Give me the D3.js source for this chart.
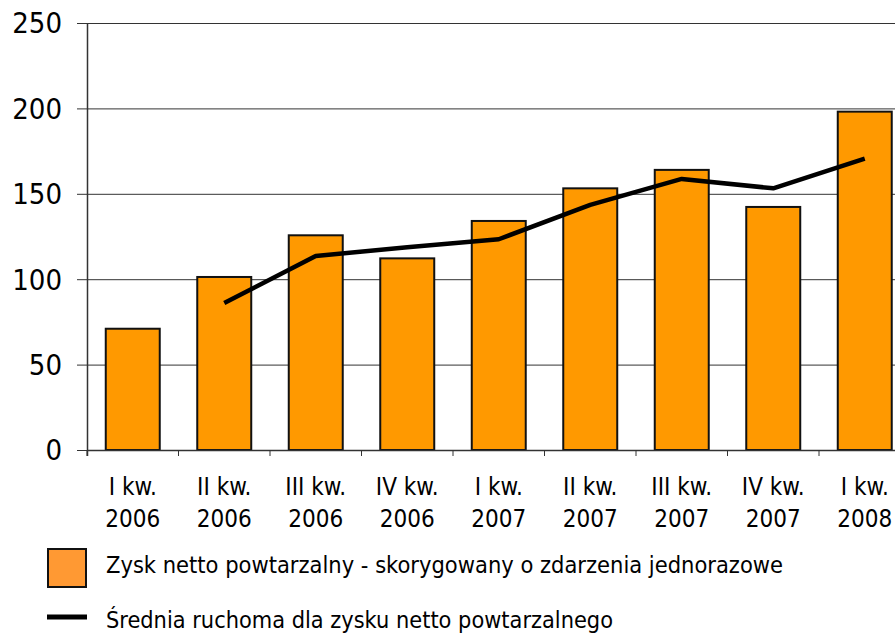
<!DOCTYPE html>
<html>
<head>
<meta charset="utf-8">
<script src="https://cdn.jsdelivr.net/npm/d3@7"></script>
<style>
body { margin: 0; background: #fff; }
text { font-family: "DejaVu Sans Condensed", "DejaVu Sans", sans-serif; fill: #000; }
</style>
</head>
<body>
<script>
// DATA
var categories = ["I kw.|2006", "II kw.|2006", "III kw.|2006", "IV kw.|2006",
                  "I kw.|2007", "II kw.|2007", "III kw.|2007", "IV kw.|2007", "I kw.|2008"];
var zysk_values = [71, 101.3, 125.7, 112.2, 134.1, 153.2, 164, 142.3, 198.1];
var srednia_values = [null, 86, 113.6, 118.7, 123.4, 143.5, 158.7, 153.2, 170.6];
var y_ticks = [0, 50, 100, 150, 200, 250];
var legend_labels = ["Zysk netto powtarzalny - skorygowany o zdarzenia jednorazowe",
                     "Średnia ruchoma dla zysku netto powtarzalnego"];

// SETUP
var width = 895, height = 633;
var left = 87, top_y = 23, bottom_y = 450;

var svg = d3.select("body").append("svg")
            .attr("width", width)
            .attr("height", height);

var x = d3.scaleBand()
          .domain(categories)
          .range([left, left + 9 * 91.5])
          .paddingInner(0.41)
          .paddingOuter(0.205);

var y = d3.scaleLinear()
          .domain([0, 250])
          .range([bottom_y, top_y]);

// gridlines
svg.selectAll("line.grid")
   .data(y_ticks.filter(function(d){ return d > 0; }))
   .enter()
   .append("line")
   .attr("class", "grid")
   .attr("x1", left).attr("x2", width)
   .attr("y1", function(d){ return y(d) + 0.5; })
   .attr("y2", function(d){ return y(d) + 0.5; })
   .attr("stroke", "#333")
   .attr("stroke-width", 1);

// y axis
svg.append("line")
   .attr("x1", left + 0.5).attr("x2", left + 0.5)
   .attr("y1", top_y).attr("y2", bottom_y + 6)
   .attr("stroke", "#333").attr("stroke-width", 1.5);

svg.selectAll("line.ytick")
   .data(y_ticks)
   .enter()
   .append("line")
   .attr("class", "ytick")
   .attr("x1", left - 10).attr("x2", left)
   .attr("y1", function(d){ return y(d) + 0.5; })
   .attr("y2", function(d){ return y(d) + 0.5; })
   .attr("stroke", "#333");

svg.selectAll("text.ylabel")
   .data(y_ticks)
   .enter()
   .append("text")
   .attr("class", "ylabel")
   .attr("x", 62)
   .attr("y", function(d){ return y(d); })
   .attr("dy", "0.36em")
   .attr("text-anchor", "end")
   .style("font-size", "29px")
   .text(function(d){ return d; });

// bars
svg.selectAll("rect.bar")
   .data(zysk_values)
   .enter()
   .append("rect")
   .attr("class", "bar")
   .attr("x", function(d, i){ return x(categories[i]); })
   .attr("y", function(d){ return y(d); })
   .attr("width", x.bandwidth())
   .attr("height", function(d){ return bottom_y - y(d); })
   .attr("fill", "#ff9900")
   .attr("stroke", "#111")
   .attr("stroke-width", 2);

// x axis
svg.append("line")
   .attr("x1", left).attr("x2", width)
   .attr("y1", bottom_y + 0.5).attr("y2", bottom_y + 0.5)
   .attr("stroke", "#333").attr("stroke-width", 1.5);

var gap = (x.step() - x.bandwidth()) / 2;
svg.selectAll("line.xtick")
   .data(categories)
   .enter()
   .append("line")
   .attr("class", "xtick")
   .attr("x1", function(d){ return x(d) - gap; })
   .attr("x2", function(d){ return x(d) - gap; })
   .attr("y1", bottom_y).attr("y2", bottom_y + 6)
   .attr("stroke", "#333");

var xlabels = svg.selectAll("text.xlabel")
   .data(categories)
   .enter()
   .append("text")
   .attr("class", "xlabel")
   .attr("text-anchor", "middle")
   .style("font-size", "24px");

xlabels.append("tspan")
   .attr("x", function(d){ return x(d) + x.bandwidth() / 2; })
   .attr("y", 495)
   .text(function(d){ return d.split("|")[0]; });
xlabels.append("tspan")
   .attr("x", function(d){ return x(d) + x.bandwidth() / 2; })
   .attr("y", 527)
   .text(function(d){ return d.split("|")[1]; });

// moving average line
var line = d3.line()
             .defined(function(d){ return d !== null; })
             .x(function(d, i){ return x(categories[i]) + x.bandwidth() / 2; })
             .y(function(d){ return y(d); });

svg.append("path")
   .datum(srednia_values)
   .attr("d", line)
   .attr("fill", "none")
   .attr("stroke", "#000")
   .attr("stroke-width", 4.5)
   .attr("stroke-linejoin", "round");

// legend
svg.append("rect")
   .attr("x", 48).attr("y", 549)
   .attr("width", 38).attr("height", 38)
   .attr("fill", "#ff9933")
   .attr("stroke", "#111")
   .attr("stroke-width", 2);

svg.append("line")
   .attr("x1", 47).attr("x2", 87)
   .attr("y1", 617).attr("y2", 617)
   .attr("stroke", "#000")
   .attr("stroke-width", 5);

svg.append("text")
   .attr("x", 106).attr("y", 573)
   .style("font-size", "23px")
   .attr("textLength", 677)
   .attr("lengthAdjust", "spacingAndGlyphs")
   .text(legend_labels[0]);

svg.append("text")
   .attr("x", 106).attr("y", 628)
   .style("font-size", "23px")
   .attr("textLength", 507)
   .attr("lengthAdjust", "spacingAndGlyphs")
   .text(legend_labels[1]);
</script>
</body>
</html>
